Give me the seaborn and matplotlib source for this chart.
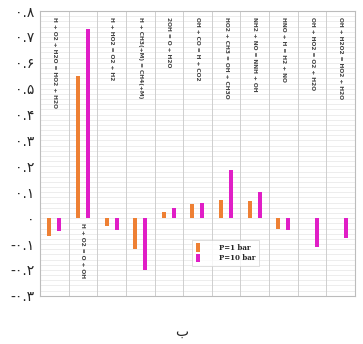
import pandas as pd
import numpy as np
import matplotlib
matplotlib.use('Agg')
import matplotlib.pyplot as plt
import seaborn as sb

reactions = ['H + O2 + H2O = HO2 + H2O', 'H + O2 = O + OH', 'H + HO2 = O2 + H2',
             'H + CH3(+M) = CH4(+M)', '2OH = O + H2O', 'OH + CO = H + CO2',
             'HO2 + CH3 = OH + CH3O', 'NH2 + NO = NNH + OH', 'HNO + H = H2 + NO',
             'OH + HO2 = O2 + H2O', 'OH + H2O2 = HO2 + H2O']
p1 = [-0.07, 0.55, -0.03, -0.12, 0.025, 0.055, 0.07, 0.065, -0.04, 0.0, 0.0]
p10 = [-0.05, 0.73, -0.045, -0.20, 0.04, 0.06, 0.185, 0.10, -0.045, -0.11, -0.075]
series = ['P=1 bar', 'P=10 bar']
yticks = [0.8, 0.7, 0.6, 0.5, 0.4, 0.3, 0.2, 0.1, 0, -0.1, -0.2, -0.3]
ytick_labels = ['۰.۸', '۰.۷', '۰.۶', '۰.۵', '۰.۴', '۰.۳', '۰.۲', '۰.۱', '۰',
                '-۰.۱', '-۰.۲', '-۰.۳']

df = pd.DataFrame({'reaction': reactions * 2,
                   'value': p1 + p10,
                   'series': [series[0]] * len(p1) + [series[1]] * len(p10)})

sb.set_style('white')
plt.rcParams['font.family'] = ['DejaVu Sans']

fig = plt.figure(figsize=(3.63, 3.44), dpi=100)
ax = fig.add_axes([0.110, 0.140, 0.868, 0.828])

sb.barplot(data=df, x='reaction', y='value', hue='series', order=reactions,
           palette=['#ee8034', '#e01ec6'], width=0.7, gap=0.6, ax=ax,
           saturation=1, errorbar=None, linewidth=0)

ax.set_xlim(-0.5, len(reactions) - 0.5)
ax.set_ylim(-0.3, 0.8)

# grid: light horizontal lines every 0.02, grey verticals between categories
for y in np.arange(-0.3, 0.801, 0.02):
    ax.axhline(y, color='#e6e6e6', lw=0.5, zorder=0)
for k in range(1, len(reactions)):
    ax.axvline(k - 0.5, color='#c8c8c8', lw=0.6, zorder=0)

ax.set_xticks([])
ax.set_yticks(yticks)
ax.set_yticklabels(ytick_labels, fontsize=10)
ax.tick_params(axis='y', length=0, pad=4)
ax.set_xlabel('')
ax.set_ylabel('')
for s in ax.spines.values():
    s.set_color('#bcbcbc')
    s.set_linewidth(0.8)

# reaction labels written vertically inside the plot
for i, r in enumerate(reactions):
    if i == 1:
        ax.text(i, -0.02, r, rotation=270, ha='center', va='top',
                fontsize=4.2, fontweight='bold', color='#444444')
    else:
        ax.text(i, 0.775, r, rotation=270, ha='center', va='top',
                fontsize=4.2, fontweight='bold', color='#444444')

leg = ax.legend(loc='lower left', bbox_to_anchor=(0.483, 0.105), borderaxespad=0,
                fontsize=5, frameon=True, handlelength=0.6, handleheight=1.6,
                handletextpad=2.8, labelspacing=0.2, borderpad=0.5, fancybox=False)
leg.get_frame().set_edgecolor('#d0d0d0')
leg.get_frame().set_linewidth(0.6)
for t in leg.get_texts():
    t.set_fontweight('bold')
    t.set_family('DejaVu Serif')

fig.text(0.5, 0.035, 'ب', ha='center', va='center', fontsize=10)

fig.savefig('out.png', dpi=100)
